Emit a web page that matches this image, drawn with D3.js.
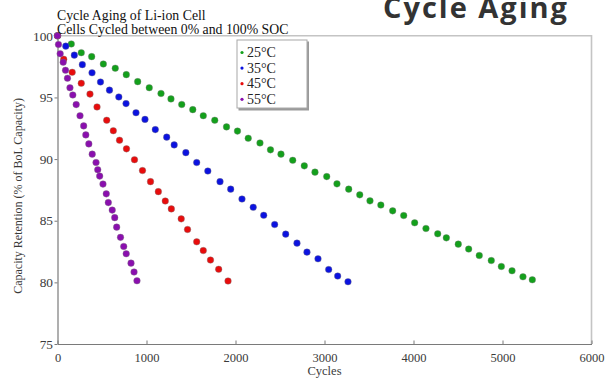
<!DOCTYPE html>
<html>
<head>
<meta charset="utf-8">
<script src="https://cdn.jsdelivr.net/npm/d3@7/dist/d3.min.js"></script>
<style>
  html, body { margin: 0; padding: 0; background: #fff; }
  svg { display: block; }
  .serif { font-family: "Liberation Serif", "Times New Roman", serif; }
</style>
</head>
<body>
<svg id="chart" width="605" height="381"></svg>
<script>
// Capacity retention (%) vs. cycle count, one series per cell temperature
const series = ["25°C", "35°C", "45°C", "55°C"];
const colors = ["#13a01b", "#0b12e0", "#e80c0c", "#8a0fae"];

const cycles25 = [0, 155, 267, 384, 515, 649, 773, 901, 1031, 1163, 1275, 1396, 1520, 1638, 1767, 1899, 2022, 2143, 2275, 2393, 2511, 2643, 2773, 2893, 3025, 3140, 3272, 3396, 3511, 3633, 3766, 3890, 4013, 4140, 4272, 4369, 4503, 4620, 4739, 4874, 4987, 5107, 5230, 5335];
const retention25 = [100, 99.34, 98.63, 98.31, 97.71, 97.37, 96.85, 96.28, 95.79, 95.32, 94.88, 94.43, 94.01, 93.52, 93.15, 92.61, 92.27, 91.69, 91.31, 90.75, 90.40, 89.90, 89.45, 88.94, 88.58, 87.99, 87.56, 87.10, 86.61, 86.27, 85.80, 85.42, 84.83, 84.37, 83.94, 83.61, 83.10, 82.70, 82.18, 81.77, 81.29, 80.94, 80.45, 80.21];

const cycles35 = [0, 93, 189, 279, 388, 483, 584, 689, 770, 882, 983, 1099, 1227, 1311, 1442, 1564, 1689, 1826, 1946, 2073, 2199, 2317, 2440, 2564, 2691, 2803, 2927, 3047, 3148, 3264];
const retention35 = [100, 99.16, 98.43, 97.66, 97.00, 96.25, 95.59, 95.04, 94.50, 93.76, 93.22, 92.39, 91.78, 91.15, 90.52, 89.72, 89.03, 88.17, 87.56, 86.76, 86.09, 85.44, 84.69, 83.91, 83.18, 82.45, 81.91, 81.04, 80.51, 80.05];

const cycles45 = [0, 70, 165, 267, 365, 444, 553, 627, 697, 775, 865, 955, 1045, 1133, 1211, 1279, 1390, 1461, 1564, 1638, 1719, 1811, 1916];
const retention45 = [100, 98.10, 97.04, 96.15, 95.27, 94.23, 93.15, 92.30, 91.53, 90.83, 89.95, 89.07, 88.17, 87.36, 86.60, 85.96, 85.15, 84.29, 83.29, 82.58, 81.81, 81.06, 80.11];

const cycles55 = [0, 11, 30, 64, 90, 112, 140, 172, 210, 253, 294, 318, 352, 390, 433, 452, 474, 511, 548, 571, 615, 643, 665, 708, 744, 772, 826, 860, 893];
const retention55 = [100, 99.30, 98.55, 97.86, 97.20, 96.56, 95.79, 95.20, 94.42, 93.52, 92.69, 91.96, 91.23, 90.40, 89.72, 89.14, 88.62, 87.97, 87.18, 86.47, 85.86, 85.25, 84.48, 83.65, 82.91, 82.32, 81.56, 80.84, 80.13];

const xTicks = [0, 1000, 2000, 3000, 4000, 5000, 6000];
const yTicks = [75, 80, 85, 90, 95, 100];

const titleLines = ["Cycle Aging of Li-ion Cell", "Cells Cycled between 0% and 100% SOC"];
const heading = "Cycle Aging";
const xLabel = "Cycles";
const yLabel = "Capacity Retention (% of BoL Capacity)";

const data = [
  { name: series[0], color: colors[0], x: cycles25, y: retention25 },
  { name: series[1], color: colors[1], x: cycles35, y: retention35 },
  { name: series[2], color: colors[2], x: cycles45, y: retention45 },
  { name: series[3], color: colors[3], x: cycles55, y: retention55 }
];

const svg = d3.select("#chart");
const x = d3.scaleLinear().domain([0, 6000]).range([57.5, 591.5]);
const y = d3.scaleLinear().domain([75, 100]).range([344, 35.8]);

// light frame on the top and right sides of the plot box
svg.append("path")
  .attr("d", `M${x(0)},${y(100)}H${x(6000)}V${y(75)}`)
  .attr("fill", "none").attr("stroke", "#c4c4c4").attr("stroke-width", 1.6);

// axes
const xAxis = svg.append("g").attr("class", "serif")
  .attr("transform", `translate(0,${y(75)})`)
  .call(d3.axisBottom(x).tickValues(xTicks).tickFormat(d3.format("d")).tickSizeInner(-3.5).tickSizeOuter(0).tickPadding(9));
const yAxis = svg.append("g").attr("class", "serif")
  .attr("transform", `translate(${x(0)},0)`)
  .call(d3.axisLeft(y).tickValues(yTicks).tickFormat(d3.format("d")).tickSizeInner(3).tickSizeOuter(0).tickPadding(1.5));

[xAxis, yAxis].forEach(g => {
  g.select(".domain").attr("stroke", "#7a7a7a").attr("stroke-width", 1.2);
  g.selectAll(".tick line").attr("stroke", "#7a7a7a");
  g.selectAll(".tick text").attr("fill", "#3a3a3a")
    .style("font-family", "'Liberation Serif', serif");
});
xAxis.selectAll(".tick text").style("font-size", "12.5px");
yAxis.selectAll(".tick text").style("font-size", "13.3px");

// markers
data.forEach(s => {
  svg.append("g").selectAll("circle")
    .data(s.x.map((c, i) => [c, s.y[i]]))
    .join("circle")
    .attr("cx", d => x(d[0]))
    .attr("cy", d => y(d[1]))
    .attr("r", 3.3)
    .attr("fill", s.color)
    .attr("stroke", "rgba(120,120,120,0.55)")
    .attr("stroke-width", 0.7);
});

// titles
svg.append("g").attr("class", "serif").selectAll("text")
  .data(titleLines).join("text")
  .attr("x", 57).attr("y", (d, i) => 19.5 + i * 14.5)
  .attr("fill", "#111").style("font-size", "13.8px")
  .text(d => d);

svg.append("text")
  .attr("x", 569).attr("y", 18).attr("text-anchor", "end")
  .style("font-family", "'Open Sans', sans-serif").style("font-weight", 700)
  .style("font-size", "29px").style("letter-spacing", "2px").attr("fill", "#333")
  .text(heading);

// axis labels
svg.append("text").attr("class", "serif")
  .attr("x", x(3000)).attr("y", 375).attr("text-anchor", "middle")
  .attr("fill", "#3a3a3a").style("font-size", "12.5px").text(xLabel);

svg.append("text").attr("class", "serif")
  .attr("transform", `translate(22,${(y(75) + y(100)) / 2 + 6}) rotate(-90)`)
  .attr("text-anchor", "middle")
  .attr("fill", "#3a3a3a").style("font-size", "12px").text(yLabel);

// legend
const lg = svg.append("g").attr("transform", "translate(237,40)");
lg.append("rect").attr("x", 1.5).attr("y", 1.5).attr("width", 70.5).attr("height", 69)
  .attr("fill", "#9a9a9a");
lg.append("rect").attr("x", 0).attr("y", 0).attr("width", 70).attr("height", 68)
  .attr("fill", "#fff").attr("stroke", "#a8a8a8").attr("stroke-width", 1);
const rows = lg.selectAll("g.row").data(data).join("g")
  .attr("transform", (d, i) => `translate(0,${12.5 + i * 15.6})`);
rows.append("circle").attr("cx", 5).attr("cy", 0).attr("r", 1.6).attr("fill", d => d.color);
rows.append("text").attr("class", "serif").attr("x", 10).attr("y", 4.5)
  .attr("fill", "#222").style("font-size", "14px").text(d => d.name);
</script>
</body>
</html>
